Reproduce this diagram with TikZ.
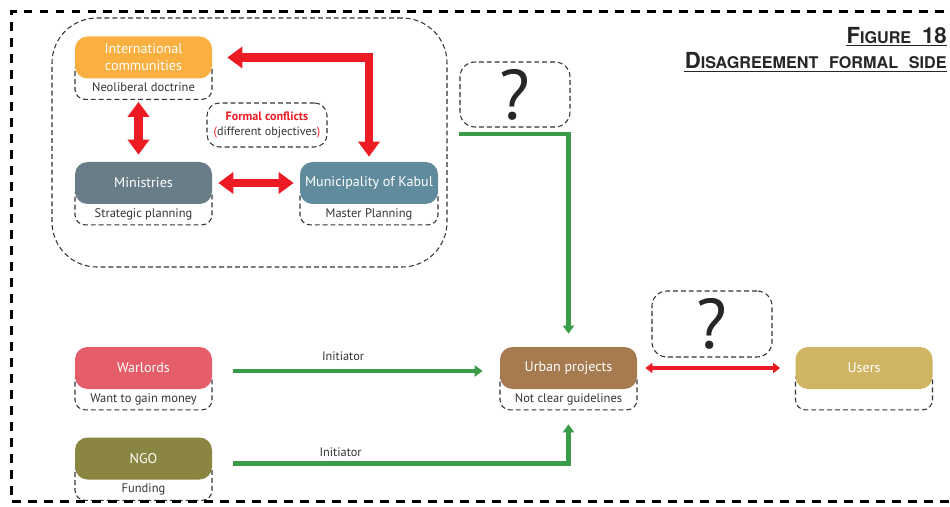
\documentclass[tikz,border=0pt]{standalone}
\usepackage{fontspec}
\setmainfont{PT Sans}
\newfontfamily\titlefont[WordSpace=2.4]{TeX Gyre Heros}
\usetikzlibrary{arrows.meta,positioning,backgrounds}
\definecolor{intcol}{HTML}{F9B040}
\definecolor{mincol}{HTML}{687D88}
\definecolor{muncol}{HTML}{5F8B9C}
\definecolor{warcol}{HTML}{E55D69}
\definecolor{ngocol}{HTML}{8B8542}
\definecolor{urbcol}{HTML}{A77B50}
\definecolor{usrcol}{HTML}{CFB463}
\definecolor{conflictred}{HTML}{ED1C24}
\definecolor{initgreen}{HTML}{3A9B48}
\definecolor{notegray}{HTML}{333333}
\newcommand\Drop{0.4cm}
\newcommand\Cap[2]{{\fontsize{12.6}{14}\selectfont #1}{\fontsize{9.2}{11}\selectfont #2}}
\tikzset{
  actor/.style={
    shape = rectangle,
    rounded corners = 0.25cm,
    minimum width = 2.74cm,
    minimum height = 0.84cm,
    inner sep = 1pt,
    align = center,
    text = white,
    font = \fontsize{8}{9.6}\selectfont
  },
}
\tikzset{
  note/.style={
    draw = notegray,
    dash pattern = on 2.8pt off 1.7pt,
    line width = 0.6pt,
    rounded corners = 0.2cm,
    minimum width = 2.74cm,
    text height = 0.6cm,
    text depth = 0.1cm,
    inner ysep = 0.05cm,
    anchor = north,
    text = notegray,
    font = \fontsize{7.1}{8}\selectfont
  },
  group/.style={
    draw = notegray,
    dash pattern = on 2.8pt off 1.7pt,
    line width = 0.6pt,
    rounded corners = 0.9cm
  },
  qbox/.style={
    draw = notegray,
    dash pattern = on 2.8pt off 1.7pt,
    line width = 0.6pt,
    rounded corners = 0.3cm,
    inner sep = 0pt,
    text = black!85,
    font = \fontsize{40}{40}\selectfont
  },
  conflict/.style={
    draw = notegray,
    dash pattern = on 2.8pt off 1.7pt,
    line width = 0.6pt,
    rounded corners = 0.25cm,
    minimum width = 2.4cm,
    minimum height = 0.88cm,
    align = center,
    text = notegray,
    font = \fontsize{6.9}{8.6}\selectfont
  },
  label/.style={
    text = notegray,
    inner sep = 2pt,
    font = \fontsize{7}{8}\selectfont
  },
  title/.style={
    inner sep = 0pt,
    text = black!85,
    font = \titlefont\bfseries\fontsize{9.2}{11}\selectfont
  }
}
\tikzset{
  fat/.style={
    draw = conflictred,
    line width = 4.6pt,
    {Triangle[width=0.42cm,length=0.3cm]}-{Triangle[width=0.42cm,length=0.3cm]}
  },
  thinred/.style={
    draw = conflictred,
    line width = 1.8pt,
    {Triangle[width=0.2cm,length=0.14cm]}-{Triangle[width=0.2cm,length=0.14cm]}
  },
  init/.style={
    draw = initgreen,
    line width = 2.3pt,
    -{Triangle[width=0.22cm,length=0.16cm]}
  }
}

\begin{document}
\begin{tikzpicture}
        \useasboundingbox (0,0) rectangle (19,-10.14);

        % outer frame
        \draw[line width=1.7pt, dash pattern=on 5.1pt off 4pt] (19.2,-0.23) -- (0.23,-0.23) -- (0.23,-10.03) -- (19.2,-10.03);

        \node[title, anchor=base east] (fig) at (18.94,-0.866) {\Cap{F}{IGURE} \Cap{18}{}};
        \node[title, anchor=base east] (sub) at (18.94,-1.38) {\Cap{D}{ISAGREEMENT} \Cap{}{FORMAL} \Cap{}{SIDE}};
        \draw[line width=0.8pt, black!85] ([yshift=-1.3pt]fig.base west) -- ([yshift=-1.3pt]fig.base east);
        \draw[line width=0.8pt, black!85] ([yshift=-1.5pt]sub.base west) -- ([yshift=-1.5pt]sub.base east);

        % actors
        \node[actor, fill=intcol] (int) at (2.87,-1.15) {International\\communities};
        \node[actor, fill=mincol] (min) at (2.87,-3.66) {Ministries};
        \node[actor, fill=muncol, minimum width=2.76cm] (mun) at (7.38,-3.66) {Municipality of Kabul};
        \node[actor, fill=warcol] (war) at (2.87,-7.36) {Warlords};
        \node[actor, fill=ngocol] (ngo) at (2.87,-9.17) {NGO};
        \node[actor, fill=urbcol] (urb) at (11.37,-7.36) {Urban projects};
        \node[actor, fill=usrcol] (usr) at (17.28,-7.36) {Users};

        \begin{scope}[on background layer]
        \node[group, minimum width=7.9cm, minimum height=4.98cm] (gov) at (4.99,-2.85) {};
        \node[note] (intnote) at ([yshift=\Drop]int.south) {Neoliberal doctrine};
        \node[note] (minnote) at ([yshift=\Drop]min.south) {Strategic planning};
        \node[note, minimum width=2.76cm] (munnote) at ([yshift=\Drop]mun.south) {Master Planning};
        \node[note] (warnote) at ([yshift=\Drop]war.south) {Want to gain money};
        \node[note] (ngonote) at ([yshift=\Drop]ngo.south) {Funding};
        \node[note] (urbnote) at ([yshift=\Drop]urb.south) {Not clear guidelines};
        \node[note] (usrnote) at ([yshift=\Drop]usr.south) {};
        \end{scope}

        \node[conflict] (conf) at (5.34,-2.5) {\textcolor{conflictred}{\textbf{Formal conflicts}}\\\textcolor{conflictred}{(}different objectives\textcolor{conflictred}{)}};
        \node[qbox, minimum width=2.2cm, minimum height=1.3cm] (q1) at (10.3,-1.89) {?};
        \node[qbox, minimum width=2.4cm, minimum height=1.32cm] (q2) at (14.24,-6.48) {?};

        % conflicts
        \draw[fat] ([xshift=-0.1cm, yshift=-0.46cm]int.south) -- ([xshift=-0.1cm, yshift=0.14cm]min.north);
        \draw[fat] ([xshift=0.12cm]min.east) -- ([xshift=-0.12cm]mun.west);
        \draw[fat] ([xshift=0.3cm]int.east) -| ([yshift=0.1cm]mun.north);
        \draw[thinred] ([xshift=0.16cm]urb.east) -- ([xshift=-0.3cm]usr.west);

        % initiators
        \draw[init] ([yshift=-0.12cm]q1.south west) -| ([yshift=0.26cm]urb.north);
        \draw[init] ([xshift=0.42cm, yshift=-0.06cm]war.east) -- node[label, above=3pt, pos=0.44] (warlab) {Initiator} ([xshift=-0.34cm, yshift=-0.06cm]urb.west);
        \draw[init] ([xshift=0.42cm, yshift=-0.1cm]ngo.east) -| node[label, above=1pt, pos=0.16] (ngolab) {Initiator} ([yshift=-0.7cm]urb.south);
\end{tikzpicture}
\end{document}
